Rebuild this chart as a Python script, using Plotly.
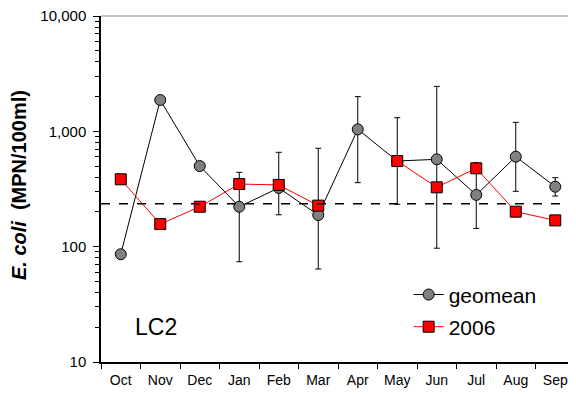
import plotly.graph_objects as go

months = ["Oct", "Nov", "Dec", "Jan", "Feb", "Mar", "Apr", "May", "Jun", "Jul", "Aug", "Sep"]
geomean = [86, 1870, 500, 222, 323, 188, 1040, 553, 572, 281, 603, 331]
geo_upper = [None, None, None, 441, 658, 713, 2000, 1313, 2455, 535, 1197, 396]
geo_lower = [None, None, None, 74, 189, 64, 359, 233, 97, 144, 302, 275]
y2006 = [384, 157, 222, 349, 343, 227, None, 553, 327, 478, 201, 169]
threshold = 235
y_tickvals = [10, 100, 1000, 10000]
y_ticktext = ["10", "100", "1,000", "10,000"]
minor_vals = [m * d for d in (10, 100, 1000) for m in range(2, 10)]

err_plus = [(u - g) if u is not None else 0 for u, g in zip(geo_upper, geomean)]
err_minus = [(g - l) if l is not None else 0 for l, g in zip(geo_lower, geomean)]

FONT = "Liberation Sans, Arial, sans-serif"

fig = go.Figure()
fig.add_trace(go.Scatter(
    x=months, y=geomean, name="geomean", mode="lines+markers",
    line=dict(color="black", width=1),
    marker=dict(symbol="circle", size=11, color="#808080", line=dict(color="black", width=1)),
    error_y=dict(type="data", symmetric=False, array=err_plus, arrayminus=err_minus,
                 color="black", thickness=1, width=3),
    legend="legend",
))
fig.add_trace(go.Scatter(
    x=months, y=y2006, name="2006", mode="lines+markers",
    line=dict(color="red", width=1),
    marker=dict(symbol="square", size=11, color="red", line=dict(color="black", width=1)),
    connectgaps=False,
    legend="legend2",
))

fig.add_shape(type="line", xref="paper", yref="y", x0=0, x1=1, y0=threshold, y1=threshold,
              line=dict(color="black", width=1.5, dash="dash"))
# top and right frame (grey)
fig.add_shape(type="line", xref="paper", yref="paper", x0=0, x1=1, y0=1, y1=1,
              line=dict(color="#b0b0b0", width=1.5))
fig.add_shape(type="line", xref="paper", yref="paper", x0=1, x1=1, y0=0, y1=1,
              line=dict(color="#b0b0b0", width=1.5))

fig.add_annotation(text="LC2", xref="paper", yref="paper", x=0.116, y=0.101,
                   xanchor="center", yanchor="middle",
                   showarrow=False, font=dict(family=FONT, size=23, color="black"))

# y-axis title
fig.add_annotation(text="<b><i>E. coli</i>&nbsp; (MPN/100ml)</b>", xref="paper", yref="paper",
                   x=-0.174, y=0.51, xanchor="center", yanchor="middle", textangle=-90,
                   showarrow=False, font=dict(family=FONT, size=20, color="black"))

# page body has an 8px default margin, so the figure is sized to fit the window
fig.update_layout(
    width=568, height=388,
    margin=dict(l=93, r=1, t=8, b=34, autoexpand=False),
    paper_bgcolor="white", plot_bgcolor="white",
    font=dict(family=FONT, color="black"),
    showlegend=True,
    legend=dict(x=0.649, y=0.194, xanchor="left", yanchor="middle",
                font=dict(family=FONT, size=21), bgcolor="rgba(0,0,0,0)"),
    legend2=dict(x=0.649, y=0.101, xanchor="left", yanchor="middle",
                 font=dict(family=FONT, size=21), bgcolor="rgba(0,0,0,0)"),
    xaxis=dict(type="category", range=[-0.5, 11.5], showgrid=False, zeroline=False,
               automargin=False,
               showline=True, linecolor="black", linewidth=1.5,
               ticks="outside", tickson="boundaries", ticklen=5, tickcolor="black",
               ticklabelstandoff=4, ticklabeloverflow="allow",
               tickfont=dict(family=FONT, size=14)),
    yaxis=dict(type="log", range=[1, 4], showgrid=False, zeroline=False,
               automargin=False,
               showline=True, linecolor="black", linewidth=1.5,
               tickvals=y_tickvals, ticktext=y_ticktext,
               ticks="outside", ticklen=6, tickcolor="black",
               ticklabelstandoff=4, ticklabeloverflow="allow",
               tickfont=dict(family=FONT, size=15),
               minor=dict(tickvals=minor_vals, ticks="outside", ticklen=4, tickcolor="black")),
)

fig.write_html("out.html")
